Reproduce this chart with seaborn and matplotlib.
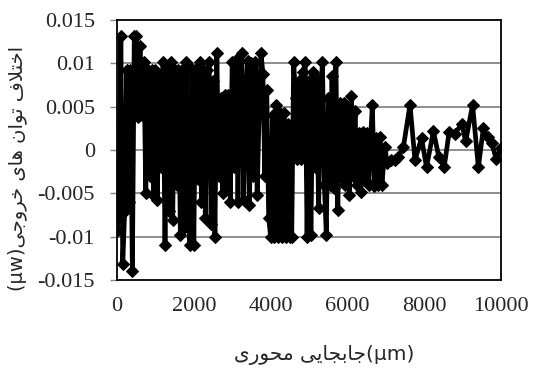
import numpy as np
import pandas as pd
import matplotlib
matplotlib.use('Agg')
import matplotlib.pyplot as plt
import seaborn as sns
from matplotlib.ticker import FuncFormatter

# axial displacement (um) and output power difference (uW)
# dense part: one reading every 50 um up to 6900 um
x_dense = list(range(0, 6901, 50))
y_dense = [-0.0094, -0.0071, 0.0131, -0.0131, -0.0070, 0.0092, -0.0060, 0.0092, -0.0140, 0.0131,
           0.0131, 0.0038, 0.0120, 0.0040, 0.0102, -0.0050, 0.0092, -0.0030, 0.0092, -0.0052,
           0.0092, -0.0058, 0.0085, -0.0020, 0.0102, -0.0110, 0.0092, -0.0070, 0.0102, -0.0081,
           0.0092, -0.0040, 0.0092, -0.0098, 0.0092, -0.0090, 0.0102, -0.0060, -0.0110, 0.0094,
           -0.0110, 0.0094, -0.0033, 0.0102, -0.0060, 0.0092, -0.0078, 0.0092, 0.0102, -0.0085,
           0.0080, -0.0100, 0.0112, -0.0030, 0.0060, -0.0050, 0.0063, -0.0040, 0.0063, -0.0060,
           0.0102, -0.0020, 0.0104, -0.0060, 0.0080, 0.0112, -0.0058, 0.0060, 0.0103, -0.0064,
           0.0100, -0.0030, 0.0102, -0.0052, 0.0040, 0.0112, 0.0088, -0.0030, 0.0069, -0.0078,
           -0.0100, 0.0040, -0.0100, 0.0052, -0.0100, 0.0043, -0.0100, 0.0043, -0.0100, 0.0030,
           -0.0100, -0.0100, 0.0102, 0.0060, -0.0010, 0.0080, -0.0010, 0.0090, 0.0102, -0.0100,
           0.0080, -0.0098, 0.0090, -0.0020, 0.0083, -0.0067, 0.0060, 0.0102, -0.0040, -0.0098,
           0.0060, -0.0040, 0.0085, -0.0044, 0.0102, -0.0069, 0.0054, -0.0032, 0.0054, -0.0040,
           0.0050, -0.0052, 0.0062, -0.0030, 0.0045, -0.0040, 0.0020, -0.0048, 0.0021, -0.0035,
           0.0020, -0.0040, 0.0010, 0.0052, -0.0042, 0.0014, -0.0040, 0.0015, -0.0040]
# calmer tail
x_tail = [6980, 7030, 7130, 7230, 7330, 7460, 7630, 7760, 7930, 8060,
          8240, 8380, 8520, 8650, 8800, 8980, 9080, 9260, 9410, 9540,
          9650, 9760, 9870, 10000]
y_tail = [0.0004, -0.0015, -0.0012, -0.0012, -0.0008, 0.0004, 0.0052, -0.0012, 0.0014, -0.0020,
          0.0022, -0.0008, -0.0020, 0.0021, 0.0019, 0.0030, 0.0010, 0.0052, -0.0020, 0.0025,
          0.0015, 0.0008, -0.0010, 0.0002]
x_ticks = [0, 2000, 4000, 6000, 8000, 10000]
y_ticks = [-0.015, -0.01, -0.005, 0, 0.005, 0.01, 0.015]
x_label_text = 'جابجایی محوری'
x_label_unit = '(μm)'
y_label_text = 'اختلاف توان های خروجی'
y_label_unit = '(μw)'

# matplotlib has no arabic shaping, so pick the contextual forms by hand
FORMS = {
    'ا': ('\uFE8D', '\uFE8E', None, None),
    'ب': ('\uFE8F', '\uFE90', '\uFE91', '\uFE92'),
    'ت': ('\uFE95', '\uFE96', '\uFE97', '\uFE98'),
    'ج': ('\uFE9D', '\uFE9E', '\uFE9F', '\uFEA0'),
    'ح': ('\uFEA1', '\uFEA2', '\uFEA3', '\uFEA4'),
    'خ': ('\uFEA5', '\uFEA6', '\uFEA7', '\uFEA8'),
    'ر': ('\uFEAD', '\uFEAE', None, None),
    'ف': ('\uFED1', '\uFED2', '\uFED3', '\uFED4'),
    'ل': ('\uFEDD', '\uFEDE', '\uFEDF', '\uFEE0'),
    'م': ('\uFEE1', '\uFEE2', '\uFEE3', '\uFEE4'),
    'ن': ('\uFEE5', '\uFEE6', '\uFEE7', '\uFEE8'),
    'ه': ('\uFEE9', '\uFEEA', '\uFEEB', '\uFEEC'),
    'و': ('\uFEED', '\uFEEE', None, None),
    'ی': ('\uFBFC', '\uFBFD', '\uFBFE', '\uFBFF'),
}


def shape(text):
    out = []
    i = 0
    while i < len(text):
        ch = text[i]
        prev = text[i - 1] if i > 0 else ''
        nxt = text[i + 1] if i + 1 < len(text) else ''
        joins_prev = prev in FORMS and FORMS[prev][2] is not None
        if ch == 'ل' and nxt == 'ا':
            out.append('\uFEFC' if joins_prev else '\uFEFB')
            i += 2
            continue
        if ch not in FORMS:
            out.append(ch)
            i += 1
            continue
        iso, fin, ini, med = FORMS[ch]
        joins_next = nxt in FORMS and ini is not None
        if joins_prev and joins_next:
            out.append(med)
        elif joins_prev:
            out.append(fin)
        elif joins_next:
            out.append(ini)
        else:
            out.append(iso)
        i += 1
    return ''.join(out)


# visual (left to right) order as it appears on the chart
x_label = shape(x_label_text)[::-1] + x_label_unit
y_label = y_label_unit + shape(y_label_text)[::-1]

df = pd.DataFrame({'x': x_dense + x_tail, 'y': y_dense + y_tail})

sns.set_style('white')
plt.rcParams['font.family'] = ['Liberation Serif', 'DejaVu Sans']

fig = plt.figure(figsize=(5.33, 3.74), dpi=100)
ax = fig.add_axes([117 / 533, 1 - 280 / 374, 384 / 533, 260 / 374])

for v in y_ticks[1:-1]:
    ax.axhline(v, color='#868686', lw=1.3, zorder=0)

sns.lineplot(data=df, x='x', y='y', ax=ax, color='black', lw=3.4,
             marker='D', markersize=6, markeredgecolor='black',
             estimator=None, sort=False, legend=False)

ax.set_xlim(0, 10000)
ax.set_ylim(-0.015, 0.015)
ax.set_xticks(x_ticks)
ax.set_yticks(y_ticks)
ax.yaxis.set_major_formatter(FuncFormatter(lambda v, p: f'{round(v, 4):g}'))
ax.tick_params(axis='x', length=0, pad=12, labelsize=16)
ax.tick_params(axis='y', length=5, width=1, color='#868686', pad=11, labelsize=16, left=True)
for lab in ax.get_xticklabels() + ax.get_yticklabels():
    lab.set_fontfamily('Liberation Serif')
for s in ax.spines.values():
    s.set_color('black')
    s.set_linewidth(1.3)
ax.set_xlabel('')
ax.set_ylabel('')

fig.text(324 / 533, 1 - 355 / 374, x_label, family=['DejaVu Sans'], fontsize=14.5,
         ha='center', va='center')
fig.text(17 / 533, 1 - 168 / 374, y_label, family=['DejaVu Sans'], fontsize=14,
         ha='center', va='center', rotation=90)

fig.savefig('out.png', dpi=100)
